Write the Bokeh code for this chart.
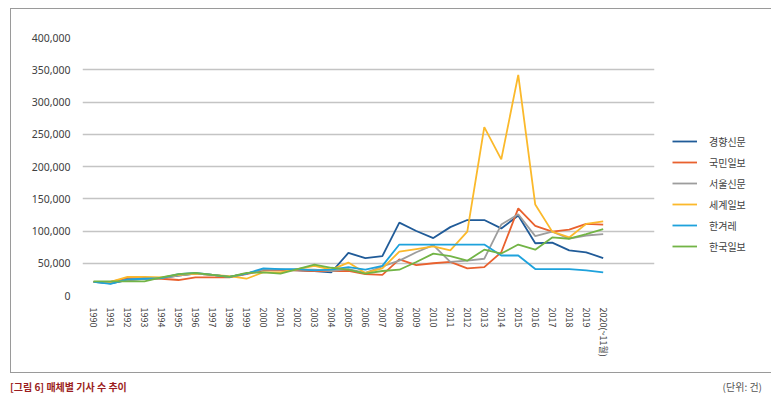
from bokeh.plotting import figure
from bokeh.layouts import column
from bokeh.models import Range1d, FixedTicker, NumeralTickFormatter, Legend, LegendItem, Div
from bokeh.embed import file_html
from bokeh.resources import INLINE

years = list(range(1990, 2021))
year_labels = ['1990', '1991', '1992', '1993', '1994', '1995', '1996', '1997', '1998', '1999',
               '2000', '2001', '2002', '2003', '2004', '2005', '2006', '2007', '2008', '2009',
               '2010', '2011', '2012', '2013', '2014', '2015', '2016', '2017', '2018', '2019',
               '2020(~11월)']

# 단위: 건
kyunghyang = [21000, 19000, 24000, 26000, 27000, 31000, 34000, 32000, 29000, 34000,
              40000, 40000, 39000, 38000, 36000, 66000, 58000, 61000, 113000, 100000,
              89000, 106000, 117000, 117000, 104000, 124000, 81000, 82000, 70000, 67000, 58000]
kukmin = [21000, 21000, 27000, 27000, 26000, 24000, 28000, 28000, 28000, 33000,
          39000, 39000, 39000, 38000, 38000, 38000, 33000, 32000, 56000, 47000,
          50000, 52000, 42000, 44000, 67000, 135000, 108000, 99000, 102000, 111000, 110000]
seoul = [21000, 20000, 24000, 26000, 27000, 31000, 34000, 32000, 29000, 34000,
         40000, 40000, 40000, 40000, 38000, 41000, 35000, 45000, 54000, 67000,
         78000, 52000, 54000, 57000, 110000, 126000, 92000, 99000, 88000, 93000, 95000]
segye = [21000, 21000, 29000, 29000, 28000, 32000, 34000, 32000, 30000, 26000,
         36000, 36000, 41000, 46000, 40000, 51000, 35000, 42000, 68000, 72000,
         76000, 70000, 99000, 261000, 211000, 342000, 141000, 99000, 90000, 111000, 115000]
hankyoreh = [21000, 18000, 25000, 26000, 27000, 33000, 35000, 32000, 29000, 34000,
             42000, 41000, 41000, 39000, 40000, 44000, 40000, 46000, 79000, 79000,
             79000, 79000, 79000, 79000, 62000, 62000, 41000, 41000, 41000, 39000, 36000]
hankook = [22000, 22000, 22000, 22000, 28000, 33000, 35000, 32000, 29000, 35000,
           36000, 34000, 41000, 48000, 43000, 40000, 34000, 38000, 40000, 52000,
           65000, 61000, 54000, 71000, 65000, 79000, 71000, 90000, 88000, 95000, 103000]

names = ['경향신문', '국민일보', '서울신문', '세계일보', '한겨레', '한국일보']
series = [kyunghyang, kukmin, seoul, segye, hankyoreh, hankook]
colors = ['#205b98', '#e9612e', '#9d9d9d', '#fbb92b', '#1ea2dc', '#72b446']

p = figure(frame_width=570, frame_height=256,
           x_range=Range1d(1989.35, 2023.02), y_range=Range1d(0, 400000),
           output_backend="svg", toolbar_location=None,
           min_border_left=71, min_border_right=109, min_border_top=28, min_border_bottom=79)
p.styles = {"border": "1px solid #9a9a9a"}
p.margin = (8, 0, 0, 10)
p.outline_line_color = None

p.xgrid.visible = False
p.ygrid.grid_line_color = '#c4c4c4'
p.ygrid.grid_line_width = 1.3

p.yaxis.ticker = FixedTicker(ticks=list(range(0, 400001, 50000)))
p.yaxis.formatter = NumeralTickFormatter(format='0,0')
p.yaxis.axis_line_color = None
p.yaxis.major_tick_line_color = None
p.yaxis.minor_tick_line_color = None
p.yaxis.major_label_standoff = 6
p.yaxis.major_label_text_font = 'Noto Sans'
p.yaxis.major_label_text_font_size = '10.5px'
p.yaxis.major_label_text_color = '#404040'

p.xaxis.ticker = FixedTicker(ticks=years)
p.xaxis.major_label_overrides = dict(zip(years, year_labels))
p.xaxis.major_label_orientation = 'vertical'
p.xaxis.axis_line_color = None
p.xaxis.major_tick_line_color = None
p.xaxis.minor_tick_line_color = None
p.xaxis.major_label_standoff = 6
p.xaxis.major_label_text_font = 'Noto Sans CJK KR'
p.xaxis.major_label_text_font_size = '9px'
p.xaxis.major_label_text_color = '#404040'

items = []
for name, vals, c in zip(names, series, colors):
    r = p.line(years, vals, line_color=c, line_width=1.8)
    items.append(LegendItem(label=name, renderers=[r]))

legend = Legend(items=items, location=(18, 40))
legend.border_line_color = None
legend.background_fill_alpha = 0
legend.padding = 0
legend.margin = 0
legend.spacing = 3
legend.glyph_width = 25
legend.glyph_height = 18
legend.label_height = 18
legend.label_standoff = 12
legend.label_text_font = 'Noto Sans CJK KR'
legend.label_text_font_size = '10px'
legend.label_text_color = '#404040'
p.add_layout(legend, 'right')

cap = Div(text='<div style="display:flex;justify-content:space-between;width:752px">'
               '<span style="color:#9b1d20;font-weight:bold">[그림 6] 매체별 기사 수 추이</span>'
               '<span style="color:#555555">(단위: 건)</span></div>',
          width=752, height=19,
          styles={"font-family": "Noto Sans CJK KR", "font-size": "10px", "padding-top": "7px"})
cap.margin = (0, 0, 0, 10)

layout = column(p, cap)
open("out.html", "w").write(file_html(layout, INLINE))
